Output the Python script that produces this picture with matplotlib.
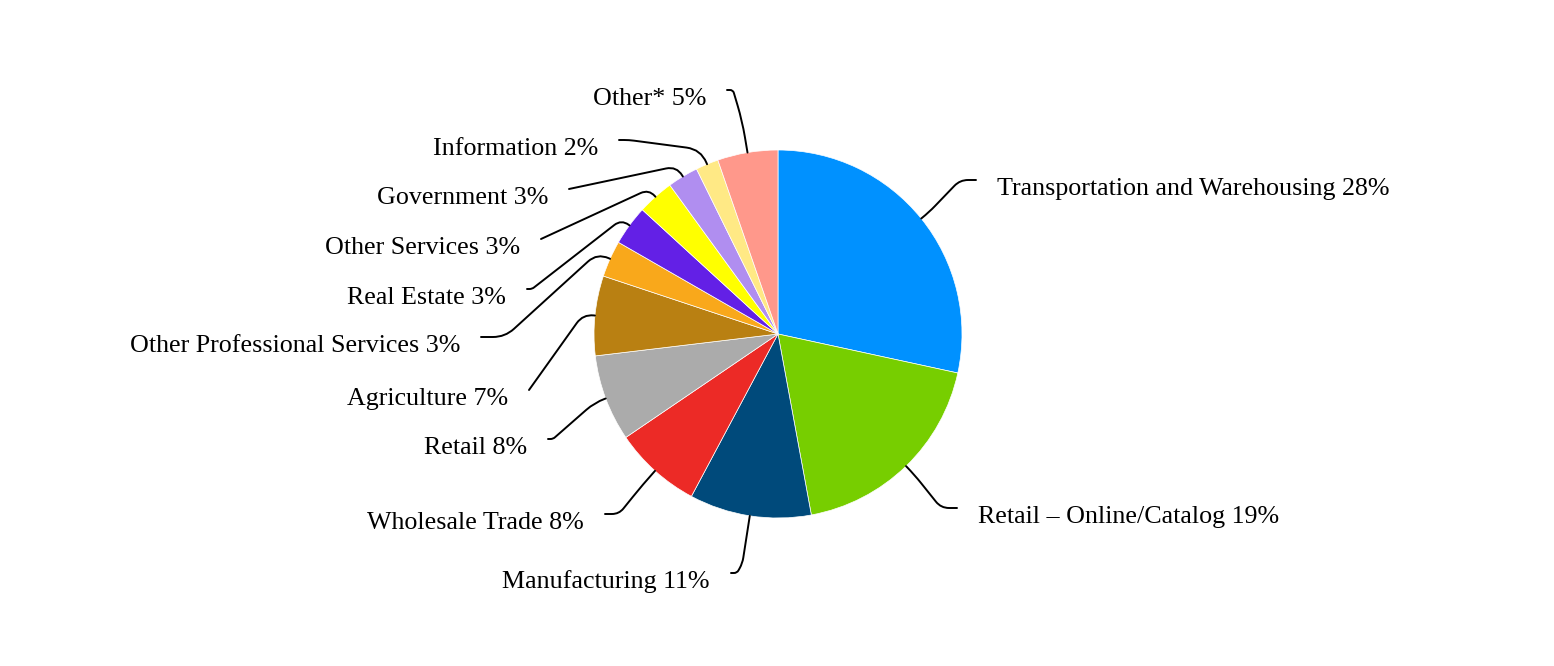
import matplotlib.pyplot as plt
import numpy as np
from matplotlib.path import Path
from matplotlib.patches import PathPatch

plt.rcParams['font.family'] = ['Liberation Serif', 'DejaVu Serif']

# data (clockwise from 12 o'clock)
sectors = ["Transportation and Warehousing", "Retail \u2013 Online/Catalog", "Manufacturing",
           "Wholesale Trade", "Retail", "Agriculture", "Other Professional Services",
           "Real Estate", "Other Services", "Government", "Information", "Other*"]
shares = [28.4, 18.7, 10.7, 7.7, 7.6, 7.0, 3.2, 3.5, 3.2, 2.7, 2.0, 5.3]
shown_pct = [28, 19, 11, 8, 8, 7, 3, 3, 3, 3, 2, 5]
colors = ['#0091FF', '#77CE00', '#004A7B', '#EC2A26', '#ABABAB', '#B98012',
          '#F9A81B', '#6320E6', '#FFFF00', '#B08EF0', '#FFE985', '#FF988B']

# layout (image pixels): label anchor x, y, side, radial arm, horizontal arm at end
label_pos = [(997, 189, 'left', 10, 16), (978, 517, 'left', 12, 16),
             (710, 582, 'right', 48, 6), (584, 523, 'right', 18, 14),
             (527, 448, 'right', 12, 5), (508, 399, 'right', 12, 0),
             (460, 346, 'right', 14, 24), (506, 298, 'right', 10, 5),
             (520, 248, 'right', 10, 0), (548, 198, 'right', 12, 0),
             (598, 149, 'right', 16, 10), (706, 99, 'right', 32, 6)]

W, H = 1554, 666
cx, cy, R = 778, 332, 184

fig = plt.figure(figsize=(W / 100, H / 100), dpi=100)
ax = fig.add_axes([0, 0, 1, 1])
wedges, _ = ax.pie(shares, colors=colors, startangle=90, counterclock=False,
                   center=(cx, cy), radius=R, frame=False,
                   wedgeprops=dict(edgecolor='white', linewidth=0.5))
ax.set_xlim(0, W)
ax.set_ylim(0, H)
ax.axis('off')


def rounded(pts, r):
    pts = [np.array(p, float) for p in pts]
    verts = [pts[0]]
    codes = [Path.MOVETO]
    for i in range(1, len(pts) - 1):
        a, b, c = pts[i - 1], pts[i], pts[i + 1]
        l1, l2 = np.linalg.norm(b - a), np.linalg.norm(c - b)
        u1, u2 = (b - a) / l1, (c - b) / l2
        d = min(r, l1 * 0.9, l2 / 2)
        verts += [b - u1 * d, b, b + u2 * d]
        codes += [Path.LINETO, Path.CURVE3, Path.CURVE3]
    verts.append(pts[-1])
    codes.append(Path.LINETO)
    return Path(verts, codes)


for w, name, pct, (lx, ly, side, arm, hx) in zip(wedges, sectors, shown_pct, label_pos):
    mid = np.deg2rad((w.theta1 + w.theta2) / 2)
    d = np.array([np.cos(mid), np.sin(mid)])
    p0 = np.array([cx, cy]) + R * d
    p1 = p0 + arm * d
    sgn = 1 if side == 'left' else -1
    tx, ty = lx, H - ly
    p3 = np.array([tx - sgn * 21, ty + 9])
    pts = [p0, p1]
    if hx > 0:
        pts.append(p3 - np.array([sgn * hx, 0]))
    pts.append(p3)
    ax.add_patch(PathPatch(rounded(pts, 26), fill=False, edgecolor='black', lw=1.4,
                           capstyle='round', joinstyle='round'))
    ax.text(tx, ty, f"{name} {pct}%", ha=side, va='center', fontsize=18.7, color='black')

fig.savefig('out.png', dpi=100)
